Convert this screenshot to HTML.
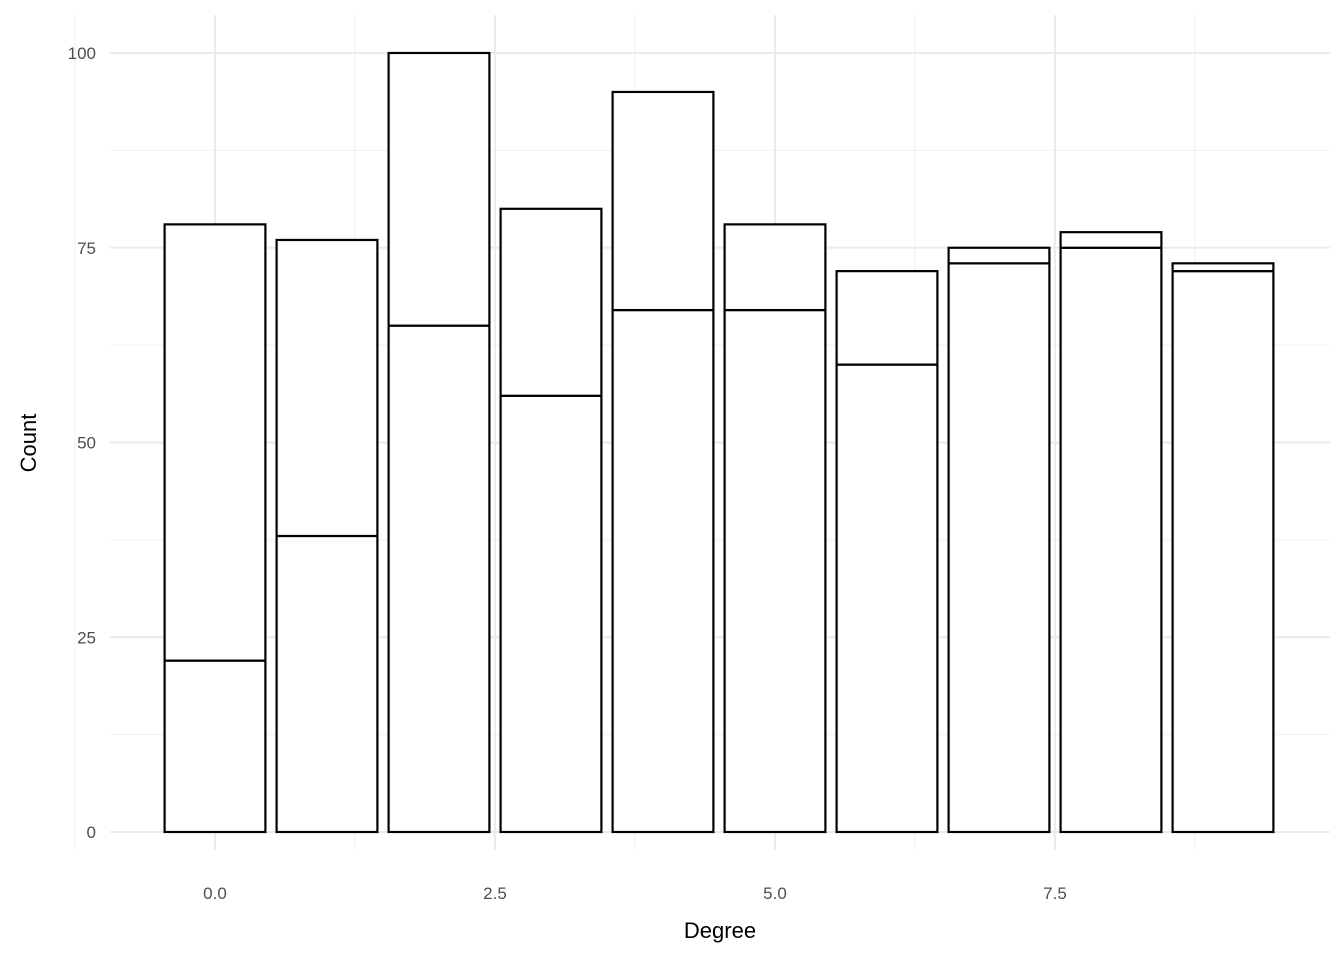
<!DOCTYPE html>
<html><head><meta charset="utf-8"><style>
html,body{margin:0;padding:0;background:#fff;}
svg{display:block;font-family:"Liberation Sans","DejaVu Sans",sans-serif;}
</style></head><body>
<svg id="chart" width="1344" height="960" viewBox="0 0 1344 960" xmlns="http://www.w3.org/2000/svg">
<g id="grid"></g>
<g id="bars"></g>
<g id="axes"></g>
<text x="720" y="938" font-size="22" text-anchor="middle" fill="#000">Degree</text>
<text transform="translate(36,443) rotate(-90)" font-size="22" text-anchor="middle" fill="#000">Count</text>
</svg>
<script>
const degrees=[0,1,2,3,4,5,6,7,8,9];
const lowerCounts=[22,38,65,56,67,67,60,73,75,72];
const totalCounts=[78,76,100,80,95,78,72,75,77,73];
const xTicks=[0,2.5,5,7.5];
const xTickLabels=["0.0","2.5","5.0","7.5"];
const yTicks=[0,25,50,75,100];
const yTickLabels=["0","25","50","75","100"];

const NS="http://www.w3.org/2000/svg";
const X0=215, XS=112, Y0=832, YS=7.79;
const xs=v=>X0+v*XS, ys=v=>Y0-v*YS;
const panelLeft=110,panelRight=1330,panelTop=15,panelBottom=850;
function mk(tag,attrs,parent){const e=document.createElementNS(NS,tag);for(const k in attrs)e.setAttribute(k,attrs[k]);parent.appendChild(e);return e;}
const gridG=document.getElementById('grid'),barsG=document.getElementById('bars'),axesG=document.getElementById('axes');
for(let i=0;i<yTicks.length-1;i++){const v=(yTicks[i]+yTicks[i+1])/2;
 const l=mk('line',{x1:panelLeft,x2:panelRight,y1:ys(v),y2:ys(v),stroke:'#f0f0f0','stroke-width':1},gridG);
 
 }
for(let i=-1;i<xTicks.length;i++){const v=xTicks[0]+(i+0.5)*2.5;
 const l=mk('line',{x1:xs(v),x2:xs(v),y1:panelTop,y2:panelBottom,stroke:'#f0f0f0','stroke-width':1},gridG);
 
 }
yTicks.forEach((v,i)=>{
 const l=mk('line',{x1:panelLeft,x2:panelRight,y1:ys(v),y2:ys(v),stroke:'#ebebeb','stroke-width':2},gridG);
 
 
 const t=mk('text',{x:96,y:ys(v)+6,'font-size':17,'text-anchor':'end',fill:'#4d4d4d'},axesG);
 t.textContent=yTickLabels[i];
 
 
});
xTicks.forEach((v,i)=>{
 const l=mk('line',{x1:xs(v),x2:xs(v),y1:panelTop,y2:panelBottom,stroke:'#ebebeb','stroke-width':2},gridG);
 
 
 const t=mk('text',{x:xs(v),y:899,'font-size':17,'text-anchor':'middle',fill:'#4d4d4d'},axesG);
 t.textContent=xTickLabels[i];
 
 
});
degrees.forEach((d,i)=>{
 const x=xs(d-0.45),w=0.9*XS;
 const r1=mk('rect',{x:x,y:ys(lowerCounts[i]),width:w,height:ys(0)-ys(lowerCounts[i]),fill:'#fff',stroke:'#000','stroke-width':2.2},barsG);
 
 
 const r2=mk('rect',{x:x,y:ys(totalCounts[i]),width:w,height:ys(lowerCounts[i])-ys(totalCounts[i]),fill:'#fff',stroke:'#000','stroke-width':2.2},barsG);
 
 
});
</script>
</body></html>
